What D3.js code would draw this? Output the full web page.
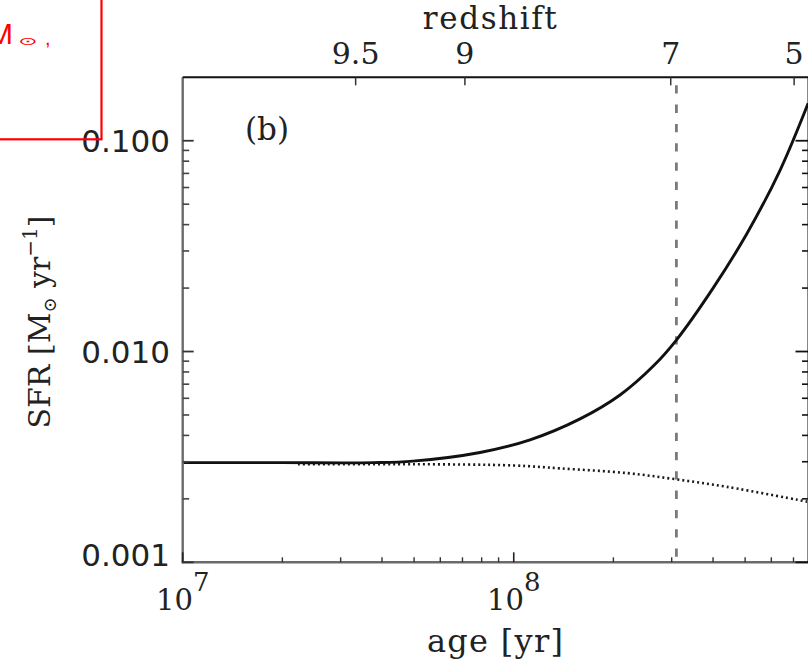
<!DOCTYPE html>
<html>
<head>
<meta charset="utf-8">
<script src="https://cdn.jsdelivr.net/npm/d3@7"></script>
<style>
  html, body { margin: 0; padding: 0; background: #fff; }
  svg { display: block; }
</style>
</head>
<body>
<svg id="chart" width="808" height="661"></svg>
<script>
// Star-formation rate vs. age, with redshift on the top axis
const ageTotal = [1e7, 2e7, 3.76e7, 4.96e7, 7.91e7, 1.12e8, 1.586e8, 2.095e8, 2.64e8, 3.108e8, 4.01e8, 5.06e8, 6.38e8, 7.75e8];
const sfrTotal = [0.00297, 0.00297, 0.00297, 0.00302, 0.00332, 0.00381, 0.00479, 0.00622, 0.00853, 0.0114, 0.0201, 0.0362, 0.0726, 0.1505];

const ageQuiet = [2.23e7, 4.96e7, 1.0e8, 1.38e8, 2.2e8, 3.07e8, 4.41e8, 7.69e8];
const sfrQuiet = [0.00292, 0.00292, 0.00288, 0.00279, 0.00265, 0.00248, 0.00228, 0.00194];

const markerAge = 3.1e8;

const redshiftLabels = ["9.5", "9", "7", "5"];
const redshiftAges = [3.33e7, 7.12e7, 2.98e8, 7.03e8];

const sfrTicks = [0.001, 0.01, 0.1];
const ageTicks = [1e7, 1e8];
const ageDomain = [1e7, 7.77e8];
const sfrDomain = [0.001, 0.2];

const svg = d3.select("#chart");
const L = 182.7, R = 808.5, T = 77.3, B = 562.3;

const x = d3.scaleLog().domain(ageDomain).range([L, R]);
const y = d3.scaleLog().domain(sfrDomain).range([B, T]);

const serif = "'DejaVu Serif', serif";
const sans = "'DejaVu Sans', sans-serif";

// minor tick values for a log domain
function minorTicks(domain) {
  const out = [];
  const k0 = Math.floor(Math.log10(domain[0])), k1 = Math.ceil(Math.log10(domain[1]));
  for (let k = k0; k <= k1; k++) {
    for (let m = 2; m <= 9; m++) {
      const v = m * Math.pow(10, k);
      if (v > domain[0] && v < domain[1]) out.push(v);
    }
  }
  return out;
}

const g = svg.append("g");

svg.append("defs").append("clipPath").attr("id", "plotclip")
  .append("rect").attr("x", L).attr("y", T).attr("width", R - L).attr("height", B - T);

const plot = g.append("g").attr("clip-path", "url(#plotclip)");

// vertical marker
plot.append("line")
  .attr("x1", x(markerAge)).attr("x2", x(markerAge))
  .attr("y1", T).attr("y2", B)
  .attr("stroke", "#7a7a7a").attr("stroke-width", 2.8)
  .attr("stroke-dasharray", "8.3 11").attr("stroke-dashoffset", 11.3);

const line = d3.line().x(d => x(d[0])).y(d => y(d[1])).curve(d3.curveCatmullRom.alpha(0.5));

plot.append("path")
  .datum(d3.zip(ageQuiet, sfrQuiet))
  .attr("d", line)
  .attr("fill", "none").attr("stroke", "#1a1a1a").attr("stroke-width", 2.6)
  .attr("stroke-dasharray", "2 3");

plot.append("path")
  .datum(d3.zip(ageTotal, sfrTotal))
  .attr("d", line)
  .attr("fill", "none").attr("stroke", "#111").attr("stroke-width", 2.9);

// frame
g.append("line").attr("x1", L).attr("x2", L).attr("y1", T).attr("y2", B + 1)
  .attr("stroke", "#6a6a6a").attr("stroke-width", 2.4);
g.append("line").attr("x1", L - 1).attr("x2", R).attr("y1", B).attr("y2", B)
  .attr("stroke", "#6a6a6a").attr("stroke-width", 2.4);
g.append("line").attr("x1", L).attr("x2", R).attr("y1", T).attr("y2", T)
  .attr("stroke", "#111").attr("stroke-width", 2);
g.append("line").attr("x1", R).attr("x2", R).attr("y1", T).attr("y2", B)
  .attr("stroke", "#111").attr("stroke-width", 2);

// left / right sfr ticks
const yMinor = minorTicks(sfrDomain);
g.selectAll(".ymajL").data(sfrTicks).join("line")
  .attr("x1", L).attr("x2", L + 11).attr("y1", d => y(d)).attr("y2", d => y(d))
  .attr("stroke", "#333").attr("stroke-width", 1.8);
g.selectAll(".yminL").data(yMinor).join("line")
  .attr("x1", L).attr("x2", L + 6.5).attr("y1", d => y(d)).attr("y2", d => y(d))
  .attr("stroke", "#444").attr("stroke-width", 1.6);
g.selectAll(".ymajR").data(sfrTicks).join("line")
  .attr("x1", R).attr("x2", R - 13).attr("y1", d => y(d)).attr("y2", d => y(d))
  .attr("stroke", "#111").attr("stroke-width", 1.8);
g.selectAll(".yminR").data(yMinor).join("line")
  .attr("x1", R).attr("x2", R - 6.5).attr("y1", d => y(d)).attr("y2", d => y(d))
  .attr("stroke", "#111").attr("stroke-width", 1.6);

// bottom age ticks
const xMinor = minorTicks(ageDomain);
g.selectAll(".xmaj").data(ageTicks).join("line")
  .attr("x1", d => x(d)).attr("x2", d => x(d)).attr("y1", B).attr("y2", B - 10)
  .attr("stroke", "#222").attr("stroke-width", 1.6);
g.selectAll(".xmin").data(xMinor).join("line")
  .attr("x1", d => x(d)).attr("x2", d => x(d)).attr("y1", B).attr("y2", B - 5)
  .attr("stroke", "#333").attr("stroke-width", 1.4);

// top redshift ticks
g.selectAll(".ztick").data(redshiftAges).join("line")
  .attr("x1", d => x(d)).attr("x2", d => x(d)).attr("y1", T).attr("y2", T + 8)
  .attr("stroke", "#333").attr("stroke-width", 1.5);

// sfr tick labels
const fmt = d3.format(".3f");
g.selectAll(".ylab").data(sfrTicks).join("text")
  .attr("x", 170).attr("y", d => Math.min(y(d), B - 7))
  .attr("dy", "0.36em")
  .attr("text-anchor", "end")
  .attr("font-family", sans).attr("font-size", 31).attr("fill", "#222")
  .text(d => fmt(d));

// age tick labels as powers of ten
ageTicks.forEach(v => {
  const t = g.append("text")
    .attr("x", x(v)).attr("y", 610)
    .attr("text-anchor", "middle")
    .attr("font-family", serif).attr("font-size", 29).attr("fill", "#222");
  t.append("tspan").text("10");
  t.append("tspan").attr("dy", -19).attr("font-size", 26).text(Math.round(Math.log10(v)));
});

// redshift labels
g.selectAll(".zlab").data(redshiftLabels).join("text")
  .attr("x", (d, i) => x(redshiftAges[i])).attr("y", 63.5)
  .attr("text-anchor", "middle")
  .attr("font-family", serif).attr("font-size", 30).attr("fill", "#222")
  .text(d => d);

// axis titles
g.append("text")
  .attr("x", (L + R) / 2 - 5).attr("y", 29)
  .attr("text-anchor", "middle")
  .attr("font-family", serif).attr("font-size", 31).attr("letter-spacing", 1.6).attr("fill", "#222")
  .text("redshift");

g.append("text")
  .attr("x", (L + R) / 2).attr("y", 652)
  .attr("text-anchor", "middle")
  .attr("font-family", serif).attr("font-size", 32).attr("letter-spacing", 1.3).attr("fill", "#222")
  .text("age [yr]");

const yt = g.append("text")
  .attr("transform", "translate(50,322) rotate(-90)")
  .attr("text-anchor", "middle")
  .attr("font-family", serif).attr("font-size", 30).attr("fill", "#222");
yt.append("tspan").text("SFR [M");
yt.append("tspan").attr("dy", 6).attr("font-size", 18).text("⊙");
yt.append("tspan").attr("dy", -6).text(" yr");
yt.append("tspan").attr("dy", -13).attr("font-size", 20).text("−1");
yt.append("tspan").attr("dy", 13).text("]");

// panel tag
g.append("text")
  .attr("x", 267).attr("y", 140)
  .attr("text-anchor", "middle")
  .attr("font-family", serif).attr("font-size", 31).attr("fill", "#222")
  .text("(b)");

// red annotation box
svg.append("rect")
  .attr("x", -3).attr("y", -3).attr("width", 104.5).attr("height", 142.3)
  .attr("fill", "none").attr("stroke", "#ff0000").attr("stroke-width", 2.2);
svg.append("text")
  .attr("x", -12).attr("y", 44)
  .attr("font-family", "'Liberation Sans', sans-serif").attr("font-size", 30).attr("fill", "#ff0000")
  .text("M");
svg.append("text")
  .attr("transform", "translate(18,45) scale(1.6,0.75)")
  .attr("font-family", "'DejaVu Sans', sans-serif").attr("font-size", 15).attr("fill", "#ff0000")
  .text("⊙");
svg.append("text")
  .attr("x", 45).attr("y", 45)
  .attr("font-family", "'Liberation Sans', sans-serif").attr("font-size", 20).attr("fill", "#ff0000")
  .text(",");
</script>
</body>
</html>
